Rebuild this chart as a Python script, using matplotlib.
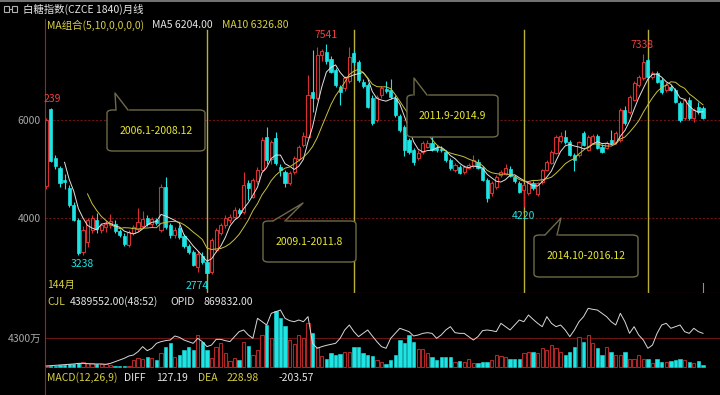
import matplotlib
matplotlib.use('Agg')
import matplotlib.pyplot as plt
import numpy as np
import pandas as pd
from matplotlib.patches import FancyBboxPatch, Rectangle
from matplotlib.lines import Line2D

plt.rcParams['font.family'] = ['Noto Sans CJK SC', 'DejaVu Sans']
plt.rcParams['axes.unicode_minus'] = False

# monthly candles, 144 bars
opens = [4650, 6220, 5225, 5020, 4770, 4620, 4270, 3960, 3310, 3500, 3760, 3960,
         3760, 3820, 3850, 3880, 3730, 3640, 3440, 3700, 3780, 3840, 4000, 3880,
         3960, 3760, 4630, 3860, 3650, 3800, 3640, 3420, 3300, 2990, 3220, 3100,
         2900, 3350, 3700, 3850, 3960, 4020, 4160, 4120, 4710, 4430, 4750, 4980,
         5650, 5200, 5630, 5040, 4940, 4720, 4940, 5200, 5480, 5660, 6570, 6450,
         7330, 7390, 7240, 7020, 6670, 6650, 6800, 7370, 7180, 6780, 6710, 6450,
         6000, 6510, 6630, 6610, 6450, 6080, 5860, 5590, 5390, 5220, 5350, 5450,
         5530, 5430, 5410, 5340, 5180, 4980, 5040, 4940, 5020, 5060, 5140, 5020,
         4780, 4510, 4630, 4880, 4900, 5000, 4840, 4710, 4570, 4510, 4710, 4490,
         4730, 4980, 5120, 5330, 5570, 5650, 5550, 5290, 5290, 5730, 5390, 5530,
         5670, 5450, 5430, 5590, 5550, 5590, 6200, 6160, 6410, 6710, 6860, 7220,
         6880, 6960, 6820, 6610, 6670, 6610, 6350, 6040, 6400, 6040, 6260, 6240]
highs = [6050, 6239, 5290, 5060, 4900, 4680, 4330, 4000, 3830, 3990, 4060, 4100,
         3900, 3960, 4080, 3950, 3780, 3700, 3760, 3850, 4200, 4150, 4060, 4020,
         4000, 4700, 4840, 3900, 3820, 3850, 3680, 3460, 3340, 3320, 3300, 3160,
         3600, 3800, 3900, 4060, 4080, 4220, 4200, 4940, 4780, 4820, 5050, 5650,
         5860, 5600, 5750, 5100, 4980, 4960, 5260, 5480, 5760, 6920, 7430, 7480,
         7450, 7541, 7300, 7060, 6720, 6900, 7490, 7420, 7220, 6840, 6760, 6500,
         6520, 6700, 6800, 6830, 6500, 6120, 5900, 5640, 5430, 5380, 5580, 5600,
         5700, 5480, 5460, 5380, 5220, 5120, 5080, 5080, 5120, 5280, 5200, 5060,
         4820, 4760, 4880, 4980, 5100, 5060, 4880, 4750, 4700, 4760, 4760, 4740,
         5000, 5180, 5380, 5700, 5760, 5800, 5590, 5320, 5580, 5780, 5690, 5720,
         5720, 5500, 5570, 5800, 5780, 6250, 6280, 6500, 6800, 6920, 7338, 7260,
         7000, 7000, 6850, 6780, 6720, 6650, 6380, 6440, 6460, 6240, 6360, 6280]
lows = [4600, 5150, 4990, 4640, 4600, 4230, 3930, 3238, 3250, 3400, 3700, 3700,
        3700, 3720, 3800, 3700, 3620, 3420, 3400, 3650, 3740, 3800, 3830, 3820,
        3860, 3720, 3780, 3600, 3600, 3580, 3380, 3270, 3010, 2900, 3060, 2774,
        2850, 3300, 3650, 3800, 3900, 3980, 4050, 4080, 4360, 4400, 4700, 4950,
        5100, 5100, 5080, 4860, 4640, 4680, 4900, 5160, 5450, 5640, 6160, 6400,
        7200, 7150, 6950, 6680, 6300, 6600, 6760, 7130, 6780, 6650, 6250, 5900,
        5960, 6450, 6560, 6430, 6060, 5760, 5260, 5300, 5080, 5180, 5300, 5420,
        5360, 5350, 5340, 5150, 4980, 4940, 4890, 4900, 4990, 5030, 4990, 4750,
        4330, 4440, 4600, 4840, 4870, 4830, 4720, 4500, 4220, 4460, 4580, 4450,
        4700, 4950, 5100, 5300, 5540, 5520, 5260, 4960, 5250, 5460, 5360, 5500,
        5400, 5320, 5400, 5500, 5520, 5560, 5900, 6120, 6380, 6680, 6820, 6850,
        6840, 6750, 6540, 6580, 6590, 6340, 5960, 6000, 5990, 5960, 6120, 6020]
closes = [6000, 5170, 5060, 4720, 4730, 4270, 3960, 3290, 3760, 3960, 4000, 3780,
          3860, 3880, 3940, 3730, 3650, 3460, 3720, 3810, 3910, 3980, 3870, 3980,
          3900, 4630, 3820, 3650, 3760, 3620, 3420, 3300, 3050, 3260, 3100, 2870,
          3550, 3750, 3850, 4000, 4020, 4160, 4100, 4670, 4610, 4780, 4980, 5590,
          5180, 5550, 5120, 4980, 4710, 4920, 5225, 5450, 5680, 6510, 6450, 7330,
          7400, 7200, 6980, 6710, 6570, 6860, 7290, 7180, 6820, 6700, 6270, 5940,
          6470, 6650, 6590, 6470, 6100, 5800, 5390, 5350, 5140, 5330, 5530, 5530,
          5390, 5390, 5380, 5190, 5020, 5080, 4920, 5040, 5080, 5180, 5020, 4780,
          4400, 4710, 4840, 4940, 5020, 4860, 4750, 4530, 4670, 4730, 4610, 4720,
          4980, 5140, 5350, 5650, 5670, 5550, 5290, 5180, 5550, 5490, 5650, 5670,
          5430, 5350, 5530, 5530, 5730, 6200, 5940, 6470, 6760, 6880, 7180, 6880,
          6960, 6780, 6570, 6710, 6610, 6370, 6000, 6400, 6040, 6200, 6160, 6040]

# volume (万) and open interest line, same panel
volumes = [150, 150, 200, 250, 350, 400, 450, 540, 790, 640, 540, 450,
           450, 400, 300, 200, 150, 150, 200, 1040, 1290, 1140, 1430, 1290,
           1040, 2130, 3010, 3610, 1530, 1780, 2520, 3010, 2520, 4750, 3760, 2520,
           1290, 3010, 3610, 2130, 940, 1290, 1040, 3760, 3110, 1780, 2520, 4750,
           6230, 4250, 8350, 7220, 6080, 4000, 3410, 4750, 4250, 6480, 4990, 3010,
           1630, 1140, 2130, 1780, 1930, 2270, 2270, 3010, 3010, 2030, 1780, 1630,
           1040, 790, 450, 1040, 1780, 4000, 3510, 4750, 3760, 2620, 2620, 2130,
           1530, 1040, 1430, 1430, 1430, 790, 940, 790, 1140, 540, 640, 790,
           790, 1040, 1780, 1630, 1530, 1140, 1140, 1140, 2030, 2270, 2270, 2030,
           2770, 2520, 3260, 2770, 2270, 1780, 2270, 3010, 4500, 3760, 4750, 3610,
           2770, 1780, 3010, 2270, 1780, 1780, 2270, 1140, 1140, 1780, 1140, 1140,
           540, 1140, 790, 790, 940, 1040, 1140, 1040, 790, 640, 940, 300]
opid = [150, 200, 250, 300, 350, 400, 450, 540, 540, 500, 450, 450,
        450, 400, 540, 790, 1040, 1290, 1630, 1780, 2280, 3020, 2420, 2770,
        3510, 3760, 3910, 4000, 4600, 4400, 4000, 3760, 3510, 4250, 3760, 3020,
        3260, 4100, 4100, 3910, 3760, 4500, 5240, 5490, 4750, 4250, 7220, 6720,
        6230, 7960, 8210, 8450, 7220, 6870, 6720, 6970, 6720, 7470, 3510, 2770,
        3020, 3210, 3360, 3510, 4250, 5490, 6230, 5240, 4500, 4990, 5490, 4600,
        3760, 3020, 2770, 4250, 4990, 5740, 5490, 5240, 4600, 4750, 4990, 5090,
        4990, 4250, 4750, 5490, 5980, 5090, 4990, 4990, 4500, 4000, 4500, 5390,
        5490, 5390, 5240, 6480, 5980, 5490, 6230, 6970, 6720, 7710, 7070, 6480,
        5980, 7470, 6480, 5980, 6230, 5490, 4500, 5490, 6720, 7470, 8700, 8550,
        8450, 7960, 7470, 6720, 6230, 7960, 6720, 4990, 5980, 4750, 4000, 2770,
        3260, 4990, 6230, 6480, 5740, 5980, 6230, 5240, 4990, 5740, 5240, 4990]

period_marks = [35, 67, 104, 131]   # 2009.1, 2011.9, 2014.10, 2017.1
periods = ['2006.1-2008.12', '2009.1-2011.8', '2011.9-2014.9', '2014.10-2016.12']

UP = '#d83030'
DOWN = '#1ee4e4'
FRAME = '#a82020'
GRID = '#6a1414'
YEL = '#d8d040'
GREY = '#a8a8a8'

W, H = 720, 395
def fx(px):
    return px / W
def fy(py):
    return 1 - py / H

fig = plt.figure(figsize=(7.2, 3.95), dpi=100, facecolor='black')

ax = fig.add_axes([fx(45), fy(293), 1 - fx(45), fy(19) - fy(293)])
axv = fig.add_axes([fx(45), fy(368), 1 - fx(45), fy(293) - fy(368)], sharex=ax)
axm = fig.add_axes([fx(45), 0, 1 - fx(45), fy(368)], sharex=ax)

df = pd.DataFrame({'open': opens, 'high': highs, 'low': lows, 'close': closes,
                   'vol': volumes, 'opid': opid})
idx = np.arange(len(df))
up = df['close'] >= df['open']
dn = ~up
body_lo = df[['open', 'close']].min(axis=1)
body_hi = df[['open', 'close']].max(axis=1)

for a in (ax, axv, axm):
    a.set_facecolor('black')
    for s in a.spines.values():
        s.set_visible(False)
    a.spines['left'].set_visible(True)
    a.spines['left'].set_color(FRAME)
    a.spines['bottom'].set_visible(True)
    a.spines['bottom'].set_color(FRAME)
    a.tick_params(axis='x', length=0, labelbottom=False)
    a.tick_params(axis='y', length=0, colors=GREY, labelsize=7.5, pad=3)
axm.spines['bottom'].set_visible(False)
axm.set_yticks([])

# --- price panel ---
ax.set_xlim(-0.26, 146.7)
ax.set_ylim(2469, 8061)
ax.set_yticks([4000, 6000])
for lvl in (4000, 6000):
    ax.axhline(lvl, color=GRID, lw=0.8, ls=(0, (2, 1.5)), zorder=0)

# wicks
ax.vlines(idx[dn], df['low'][dn], df['high'][dn], color=DOWN, lw=0.8, zorder=2)
ax.vlines(idx[up], body_hi[up], df['high'][up], color=UP, lw=0.8, zorder=2)
ax.vlines(idx[up], df['low'][up], body_lo[up], color=UP, lw=0.8, zorder=2)
# bodies
ax.bar(idx[dn], (body_hi - body_lo)[dn].clip(lower=15), bottom=body_lo[dn],
       width=0.68, color=DOWN, edgecolor=DOWN, lw=0.5, zorder=3)
ax.bar(idx[up], (body_hi - body_lo)[up].clip(lower=15), bottom=body_lo[up],
       width=0.68, facecolor='black', edgecolor=UP, lw=0.8, zorder=3)

ma5 = df['close'].rolling(5).mean()
ma10 = df['close'].rolling(10).mean()
ax.plot(idx, ma5, color='#e0e0e0', lw=0.7, zorder=4)
ax.plot(idx, ma10, color='#c8c040', lw=0.7, zorder=4)

for m in period_marks:
    ax.axvline(m, ymin=0, ymax=0.96, color='#b8b038', lw=1, zorder=1)
ax.axvline(idx[-1], ymin=0, ymax=0.035, color='#909090', lw=0.8)

# extreme labels
lab = dict(fontsize=7.5, zorder=6)
ax.annotate('239', (1, df['high'][1]), xytext=(1, 3), textcoords='offset points',
            ha='center', va='bottom', color='#f04040', **lab)
ax.annotate('7541', (61, df['high'][61]), xytext=(0, 3), textcoords='offset points',
            ha='center', va='bottom', color='#f04040', **lab)
ax.annotate('7338', (130, df['high'][130]), xytext=(-1, 3), textcoords='offset points',
            ha='center', va='bottom', color='#f04040', **lab)
ax.annotate('3238', (7, df['low'][7]), xytext=(3, -3), textcoords='offset points',
            ha='center', va='top', color=DOWN, **lab)
ax.annotate('2774', (35, df['low'][35]), xytext=(1, -2), textcoords='offset points',
            ha='right', va='top', color=DOWN, **lab)
ax.annotate('4220', (104, df['low'][104]), xytext=(0, -3), textcoords='offset points',
            ha='center', va='top', color=DOWN, **lab)

# --- volume panel ---
axv.set_ylim(-148, 10974)
axv.set_yticks([4300])
axv.set_yticklabels(['4300万'])
axv.axhline(4300, color=GRID, lw=0.8, zorder=0)
axv.bar(idx[dn], df['vol'][dn], width=0.72, color=DOWN, edgecolor=DOWN, lw=0.4, zorder=2)
axv.bar(idx[up], df['vol'][up], width=0.72, facecolor='black', edgecolor='#b02626', lw=0.8, zorder=2)
axv.plot(idx, df['opid'], color='#d8d8d8', lw=0.7, zorder=3)

# --- header / text ---
fig.add_artist(Line2D([0, 1], [fy(0.6), fy(0.6)], color='#8a8a8a', lw=1.2))
fig.add_artist(Rectangle((fx(4), fy(12)), fx(5), fy(6) - fy(12), fill=False, ec='#b0b0b0', lw=0.8))
fig.add_artist(Rectangle((fx(12), fy(12)), fx(5), fy(6) - fy(12), fill=False, ec='#b0b0b0', lw=0.8))
fig.add_artist(Line2D([fx(9), fx(12)], [fy(9), fy(9)], color='#b0b0b0', lw=0.8))
fig.text(fx(23), fy(9), '白糖指数(CZCE 1840)月线', color='#e6e6e6', fontsize=7.5, va='center')

def txt(x, y, s, c, fs=7.5):
    fig.text(fx(x), fy(y), s, color=c, fontsize=fs, va='center', ha='left')

txt(47, 25, 'MA组合(5,10,0,0,0,0)', YEL)
txt(152, 25, 'MA5 6204.00', '#e6e6e6')
txt(222, 25, 'MA10 6326.80', YEL)
txt(47, 285, '144月', YEL)
txt(47, 302, 'CJL', YEL)
txt(70, 302, '4389552.00(48:52)', '#e6e6e6')
txt(170, 302, 'OPID', '#e6e6e6')
txt(203, 302, '869832.00', '#e6e6e6')
txt(47, 378, 'MACD(12,26,9)', YEL)
txt(124, 378, 'DIFF', '#e6e6e6')
txt(156, 378, '127.19', '#e6e6e6')
txt(198, 378, 'DEA', YEL)
txt(227, 378, '228.98', YEL)
txt(279, 378, '-203.57', '#e6e6e6')

# --- callout boxes ---
boxes = [((107, 110, 205, 151), (116, 128, 115, 93)),
         ((263, 221, 356, 262), (273, 285, 303, 203)),
         ((407, 95, 498, 137), (414, 427, 414, 78)),
         ((534, 235, 638, 277), (545, 557, 561, 218))]
EDGE = '#6e6a48'
for ((x0, y0, x1, y1), (b0, b1, tx, ty)), label in zip(boxes, periods):
    patch = FancyBboxPatch((fx(x0), fy(y1)), fx(x1 - x0), fy(y0) - fy(y1),
                           boxstyle='round,pad=0,rounding_size=0.008',
                           transform=fig.transFigure, fc='black', ec=EDGE, lw=1, zorder=10)
    fig.add_artist(patch)
    fig.add_artist(Line2D([fx(b0 + 0.5), fx(b1 - 0.5)], [fy(y0), fy(y0)], color='black', lw=1.6, zorder=11))
    fig.add_artist(Line2D([fx(b0), fx(tx), fx(b1)], [fy(y0), fy(ty), fy(y0)], color=EDGE, lw=1, zorder=11))
    fig.text(fx((x0 + x1) / 2), fy((y0 + y1) / 2), label, color='#e8e830',
             fontsize=7.5, ha='center', va='center', zorder=12)

fig.savefig('out.png', dpi=100, facecolor='black')
